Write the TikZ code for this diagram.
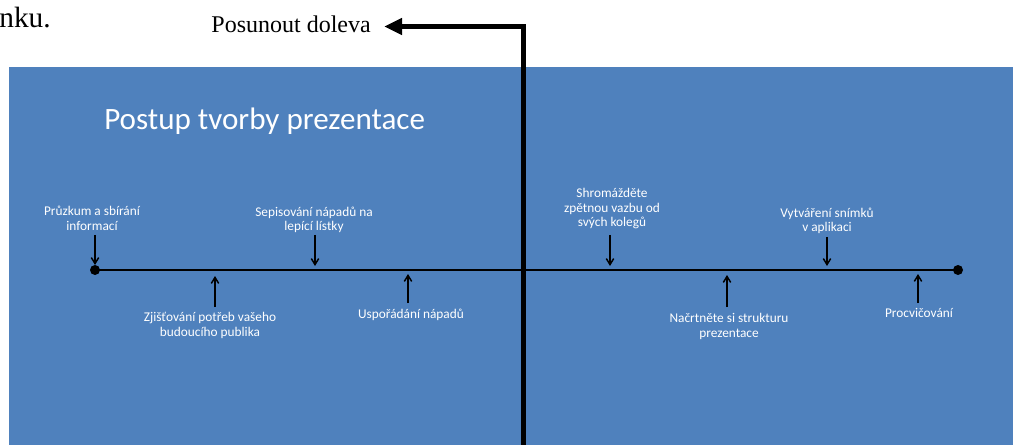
\documentclass[tikz,border=0pt]{standalone}
\usepackage{fontspec}
\setmainfont{Liberation Serif}
\newfontfamily\carlito{Carlito}
\usetikzlibrary{arrows.meta}
\definecolor{slideblue}{HTML}{4F81BD}
\begin{document}
\begin{tikzpicture}[x=0.75pt,y=-0.75pt,
  lbl/.style={font=\carlito\fontsize{10}{11}\selectfont, text=white, align=center, inner sep=0pt, anchor=base},
  tick/.style={line width=1.1pt, -{Straight Barb[length=4.5pt,width=5.5pt,line width=1.1pt]}},
  thickline/.style={line width=4.1pt, line join=miter, -{Triangle[length=13.5pt,width=12pt]}},
  timeline/.style={line width=2.2pt},
  dot/.style={circle, fill=black, inner sep=0pt, minimum size=7.5pt}]
\useasboundingbox (0,0) rectangle (1013,445);
% slide background
\fill[slideblue] (9,67) rectangle (1013,445);
% top text
\node[font=\fontsize{22}{26}\selectfont, anchor=base east, inner sep=0pt] (cut) at (51,28) {nku.};
\node[font=\fontsize{18}{22}\selectfont, anchor=base east, inner sep=0pt] (move) at (371,33) {Posunout doleva};
% title
\node[font=\carlito\fontsize{23.3}{28}\selectfont, text=white, anchor=base west, inner sep=0pt] (title) at (104,130) {Postup tvorby prezentace};
% timeline
\node[dot] (tstart) at (95,270) {};
\node[dot] (tend) at (958,270) {};
\draw[timeline] (tstart.center) -- (tend.center);
% labels (anchor base = baseline of last line)
\node[lbl] (n1) at (92,230.5) {Průzkum a sbírání\\informací};
\node[lbl] (n2) at (210,336.5) {Zjišťování potřeb vašeho\\budoucího publika};
\node[lbl] (n3) at (314,231) {Sepisování nápadů na\\lepící lístky};
\node[lbl] (n4) at (411,318) {Uspořádání nápadů};
\node[lbl] (n5) at (612,227) {Shromážděte\\zpětnou vazbu od\\svých kolegů};
\node[lbl] (n6) at (729,337) {Načrtněte si strukturu\\prezentace};
\node[lbl] (n7) at (827,232) {Vytváření snímků\\v aplikaci};
\node[lbl] (n8) at (919,317.5) {Procvičování};
% arrow coordinates
\coordinate (a1s) at (95,235);  \coordinate (a1e) at (95,265);
\coordinate (a2s) at (215,307); \coordinate (a2e) at (215,276);
\coordinate (a3s) at (315,235); \coordinate (a3e) at (315,266);
\coordinate (a4s) at (408,303); \coordinate (a4e) at (408,274);
\coordinate (a5s) at (610,235); \coordinate (a5e) at (610,266);
\coordinate (a6s) at (727,307); \coordinate (a6e) at (727,275);
\coordinate (a7s) at (827,237); \coordinate (a7e) at (827,266);
\coordinate (a8s) at (918,303); \coordinate (a8e) at (918,274);
\foreach \i in {1,...,8} {\draw[tick] (a\i s) -- (a\i e);}
% vertical bar with arrow to the label
\coordinate (vbot) at (523.5,445);
\coordinate (vtop) at (523.5,26.5);
\coordinate (tip) at (384,26.5);
\draw[thickline] (vbot) -- (vtop) -- (tip);
\end{tikzpicture}
\end{document}
